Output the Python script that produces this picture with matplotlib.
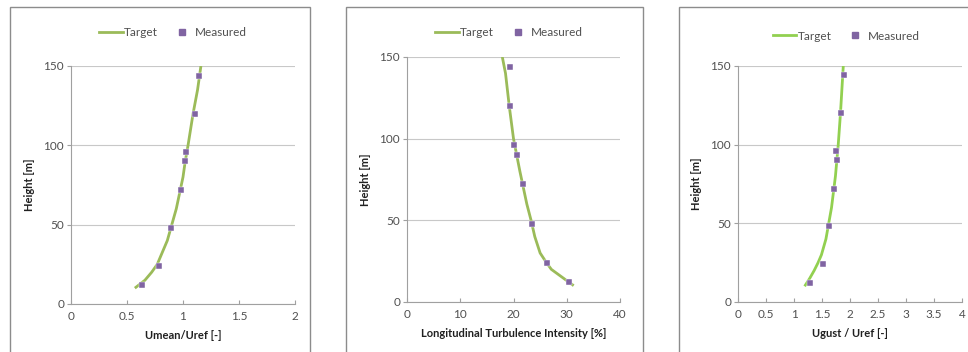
import matplotlib
matplotlib.use("Agg")
import matplotlib.pyplot as plt
from matplotlib.patches import Rectangle
from matplotlib.lines import Line2D

plt.rcParams['font.family'] = ['Lato', 'DejaVu Sans']

# measured heights [m]
z_meas = [12, 24, 48, 72, 90, 96, 120, 144]
umean_meas = [0.63, 0.79, 0.89, 0.98, 1.02, 1.03, 1.11, 1.14]
ti_meas = [30.5, 26.3, 23.5, 21.8, 20.6, 20.1, 19.3, 19.25]
ugust_meas = [1.29, 1.51, 1.62, 1.72, 1.76, 1.75, 1.845, 1.89]

# target profiles
z_umean = [10, 15, 20, 25, 30, 40, 50, 60, 70, 80, 90, 100, 120, 135, 150]
umean_tgt = [0.57, 0.66, 0.72, 0.77, 0.80, 0.86, 0.90, 0.94, 0.97, 1.00, 1.02, 1.045, 1.09, 1.13, 1.16]

z_ti = [10, 15, 20, 25, 30, 40, 50, 60, 80, 100, 120, 140, 150]
ti_tgt = [31.3, 29.2, 27.1, 26.0, 25.0, 24.0, 23.3, 22.5, 21.2, 20.0, 19.2, 18.5, 17.9]

z_ugust = [10, 15, 20, 25, 30, 40, 50, 60, 80, 100, 120, 150]
ugust_tgt = [1.19, 1.28, 1.36, 1.43, 1.49, 1.57, 1.62, 1.67, 1.74, 1.79, 1.83, 1.88]

W, H = 968, 352
fig = plt.figure(figsize=(W / 100, H / 100), dpi=100)
fig.patch.set_facecolor('white')

purple = '#8064A2'
tcol = '#505050'

def px(l, t, r, b):
    return [l / W, (H - b) / H, (r - l) / W, (b - t) / H]

# chart frames
for l, r in [(10, 310), (346, 643), (679, 975)]:
    fig.patches.append(Rectangle((l / W, -0.05), (r - l) / W, (H - 7) / H + 0.05,
                                 transform=fig.transFigure, fill=False,
                                 edgecolor='#8c8c8c', lw=1.0))

def panel(box, xt, zt, xm, label, xlim, xticks, color, xtl, legx, legy):
    ax = fig.add_axes(px(*box))
    ax.plot(xt, zt, color=color, lw=2.0, solid_capstyle='butt')
    ax.plot(xm, z_meas, 's', color=purple, ms=5, mec='white', mew=0.3, ls='none')
    ax.set_xlim(xlim)
    ax.set_ylim(0, 150)
    ax.set_xticks(xticks)
    ax.set_xticklabels(xtl)
    ax.set_yticks([0, 50, 100, 150])
    ax.grid(axis='y', color='#c8c8c8', lw=0.8)
    ax.set_axisbelow(True)
    for s in ['top', 'right']:
        ax.spines[s].set_visible(False)
    for s in ['left', 'bottom']:
        ax.spines[s].set_color('#a0a0a0')
        ax.spines[s].set_linewidth(0.8)
    ax.tick_params(axis='x', direction='in', length=3, color='#a0a0a0',
                   labelsize=8.5, labelcolor=tcol, pad=5)
    ax.tick_params(axis='y', direction='out', length=3, color='#a0a0a0',
                   labelsize=8.5, labelcolor=tcol, pad=2)
    ax.set_xlabel(label, fontsize=8, fontweight='bold', color='#202020', labelpad=6)
    ax.set_ylabel('Height [m]', fontsize=8, fontweight='bold', color='#202020', labelpad=6)
    handles = [Line2D([], [], color=color, lw=2.0),
               Line2D([], [], marker='s', color=purple, ls='none', ms=4.5)]
    ax.legend(handles, ['Target', 'Measured'], loc='center', ncol=2,
              bbox_to_anchor=(legx, legy), frameon=False, fontsize=8.5,
              labelcolor=tcol, handlelength=2.0, handletextpad=0.1,
              columnspacing=1.0)
    return ax

panel((71, 66, 295, 304), umean_tgt, z_umean, umean_meas, 'Umean/Uref [-]',
      (0, 2), [0, 0.5, 1, 1.5, 2], '#9BBB59', ['0', '0.5', '1', '1.5', '2'],
      0.455, 1.139)
panel((407, 57, 620, 302), ti_tgt, z_ti, ti_meas,
      'Longitudinal Turbulence Intensity [%]', (0, 40), [0, 10, 20, 30, 40],
      '#9BBB59', ['0', '10', '20', '30', '40'], 0.479, 1.098)
panel((738, 66, 962, 302), ugust_tgt, z_ugust, ugust_meas, 'Ugust / Uref [-]',
      (0, 4), [0, 0.5, 1, 1.5, 2, 2.5, 3, 3.5, 4], '#92D050',
      ['0', '0.5', '1', '1.5', '2', '2.5', '3', '3.5', '4'], 0.484, 1.127)

fig.savefig('out.png', dpi=100, facecolor='white')
